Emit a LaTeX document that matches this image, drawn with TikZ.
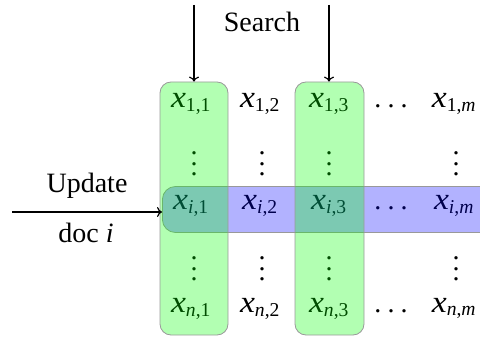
\documentclass[tikz,border=0pt]{standalone}
\usepackage{fontspec}
\setmainfont{Liberation Serif}
\usepackage{graphicx}
\usetikzlibrary{positioning,arrows.meta}
\newcommand{\xent}[2]{\scalebox{1.2}[1.1]{\textit{x}}\textsubscript{#1,#2}}
\newcommand{\vdt}{\vbox{\baselineskip 10.5pt\lineskiplimit0pt\hbox{.}\hbox{.}\hbox{.}}}
\newcommand{\hdt}{.\kern0.22em.\kern0.22em.}
\tikzset{
  cell/.style={anchor=base,inner sep=0pt},
  vcell/.style={inner sep=0pt},
  colbox/.style={draw=black!40,line width=0.8pt,fill=green,fill opacity=0.3,rounded corners=11pt,minimum height=253pt},
  rowbox/.style={draw=black!40,line width=0.8pt,fill=blue,fill opacity=0.3,rounded corners=13pt,minimum height=46pt,minimum width=340pt,anchor=west},
  lbl/.style={inner sep=0pt},
  arr/.style={-{To[length=5pt,width=10pt]},line width=1.2pt}
}

\begin{document}
\begin{tikzpicture}[x=1pt,y=-1pt,font=\fontsize{28}{34}\selectfont]
    \useasboundingbox (0,0) rectangle (480,337);
    % entries
    \node[cell] (x11) at (191,107) {\xent{1}{1}};
    \node[cell] (x12) at (260,107) {\xent{1}{2}};
    \node[cell] (x13) at (329,107) {\xent{1}{3}};
    \node[cell] (x1d) at (391,107) {\hdt};
    \node[cell] (x1m) at (454,107) {\xent{1}{\textit{m}}};
    \node[vcell] (va1) at (194,164) {\vdt};
    \node[vcell] (va2) at (262,164) {\vdt};
    \node[vcell] (va3) at (329,164) {\vdt};
    \node[vcell] (vam) at (456,164) {\vdt};
    \node[cell] (xi1) at (191,209) {\xent{\textit{i}}{1}};
    \node[cell] (xi2) at (260,209) {\xent{\textit{i}}{2}};
    \node[cell] (xi3) at (329,209) {\xent{\textit{i}}{3}};
    \node[cell] (xid) at (391,209) {\hdt};
    \node[cell] (xim) at (454,209) {\xent{\textit{i}}{\textit{m}}};
    \node[vcell] (vb1) at (194,269) {\vdt};
    \node[vcell] (vb2) at (262,269) {\vdt};
    \node[vcell] (vb3) at (329,269) {\vdt};
    \node[vcell] (vbm) at (456,269) {\vdt};
    \node[cell] (xn1) at (191,312) {\xent{\textit{n}}{1}};
    \node[cell] (xn2) at (260,312) {\xent{\textit{n}}{2}};
    \node[cell] (xn3) at (329,312) {\xent{\textit{n}}{3}};
    \node[cell] (xnd) at (391,312) {\hdt};
    \node[cell] (xnm) at (454,312) {\xent{\textit{n}}{\textit{m}}};
    % highlights
    \node[rowbox] (rowi) at (162,209.5) {};
    \node[colbox,minimum width=68pt] (col1) at (194,208.5) {};
    \node[colbox,minimum width=69pt] (col3) at (329.5,208.5) {};
    % search
    \node[lbl] (search) at (262,22) {Search};
    \coordinate (s1) at (194,5);
    \coordinate (s3) at (329,5);
    \draw[arr] (s1) -- (s1 |- col1.north);
    \draw[arr] (s3) -- (s3 |- col3.north);
    % update
    \coordinate (u) at (12,212);
    \draw[arr] (u) -- (u -| rowi.west);
    \node[lbl] (upd) at (87,186) {Update};
    \node[lbl] (doc) at (86,233) {doc \textit{i}};
\end{tikzpicture}
\end{document}
